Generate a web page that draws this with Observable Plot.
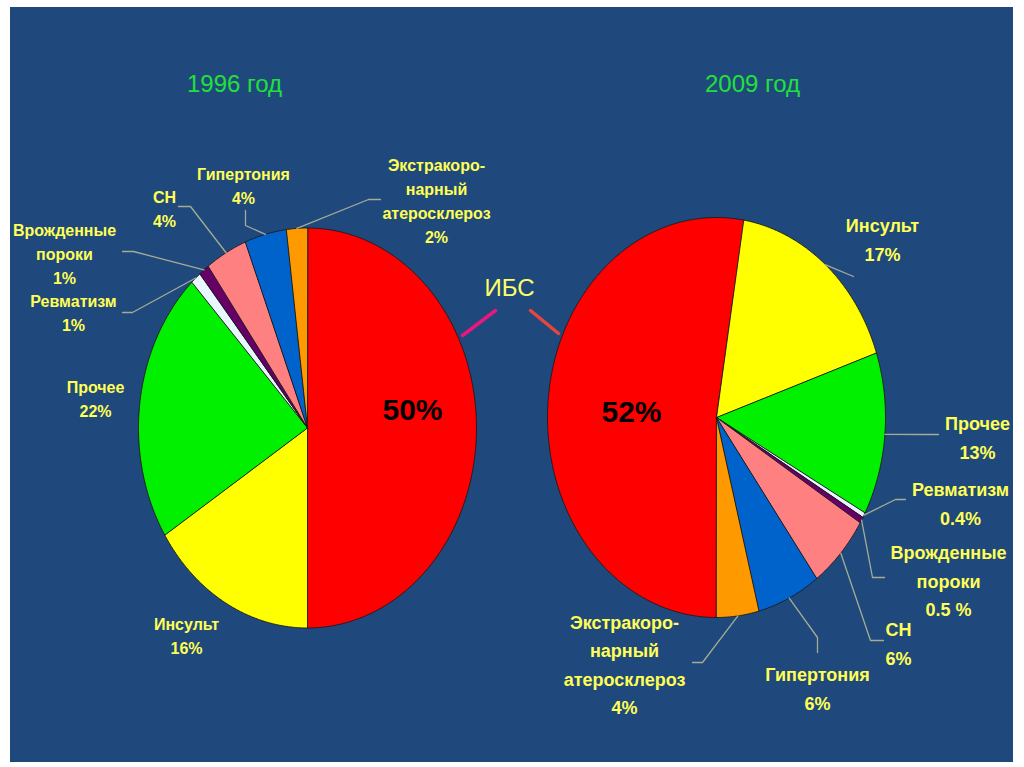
<!DOCTYPE html>
<html><head><meta charset="utf-8">
<script src="https://cdn.jsdelivr.net/npm/d3@7"></script>
<script src="https://cdn.jsdelivr.net/npm/@observablehq/plot@0.6"></script>
<style>
html,body{margin:0;padding:0;background:#fff;}
#chart svg{display:block;}
</style></head><body><div id="chart"></div>
<script>
// ---- data ----
const years = ["1996", "2009"];
const yearTitles = ["1996 год", "2009 год"];
const categories = ["ИБС", "Инсульт", "Прочее", "Ревматизм", "Врожденные пороки", "СН", "Гипертония", "Экстракоронарный атеросклероз"];
const labelNames = ["", "Инсульт", "Прочее", "Ревматизм", "Врожденные\nпороки", "СН", "Гипертония", "Экстракоро-\nнарный\nатеросклероз"];
const values1996 = [50, 16, 22, 1, 1, 4, 4, 2];
const values2009 = [52, 17, 13, 0.4, 0.5, 6, 6, 4];
const pct1996 = ["50%", "16%", "22%", "1%", "1%", "4%", "4%", "2%"];
const pct2009 = ["52%", "17%", "13%", "0.4%", "0.5 %", "6%", "6%", "4%"];
const sliceColors = ["#ff0000", "#ffff00", "#00f000", "#e8f6ff", "#660066", "#ff8080", "#0063cc", "#ff9900"];
const groupLabel = "ИБС";

// ---- layout (reference pixel positions) ----
const RX = 169, RY = 200, CY = 422.5;
const layout = {
  "1996": {center: [307, 427.5], start: 0, font: 16, lh: 1.5, main: [412, 410], title: [234, 84],
    labels: {
      1: {text: [186, 634]},
      2: {text: [95, 397]},
      3: {text: [73, 311], elbow: [132, 312], end: [122, 312]},
      4: {text: [64, 252], elbow: [133, 251], end: [122, 251]},
      5: {text: [164, 207], elbow: [190, 206], end: [178, 206]},
      6: {text: [243, 184], elbow: [245, 225], end: [245, 210]},
      7: {text: [436, 199], elbow: [368, 199], end: [380, 199]}
    }},
  "2009": {center: [716, 417], start: Math.PI, font: 18, lh: 1.58, main: [631, 412], title: [752, 84],
    labels: {
      1: {text: [882, 237], end: [853, 276]},
      2: {text: [977, 435], elbow: [928, 434], end: [938, 434]},
      3: {text: [960, 501], elbow: [895, 499], end: [905, 499]},
      4: {text: [948, 578], elbow: [872, 577], end: [884, 577]},
      5: {text: [898, 641], elbow: [870, 640], end: [883, 640]},
      6: {text: [817, 686], elbow: [817, 637], end: [817, 652]},
      7: {text: [624, 662], elbow: [702, 662], end: [692, 662]}
    }}
};
const FONT = "'Liberation Sans', Arial, sans-serif";
function toUnits(p, c) { return [(p[0] - c[0]) / RX, -(p[1] - c[1]) / RY]; }

function pieMarks(year, title, values, pcts) {
  const L = layout[year];
  const dy = L.center[1] - CY;
  const rows = categories.map((c, i) => ({category: c, value: values[i], index: i}));
  const arcs = d3.pie().sort(null).value(d => d.value)
    .startAngle(L.start).endAngle(L.start + 2 * Math.PI)(rows);
  const wedgePts = [], leaderPts = [], labelRows = [];
  arcs.forEach(a => {
    const n = Math.max(2, Math.ceil((a.endAngle - a.startAngle) / (Math.PI / 360)));
    wedgePts.push({year, category: a.data.category, x: 0, y: 0});
    for (let k = 0; k <= n; k++) {
      const t = a.startAngle + (a.endAngle - a.startAngle) * k / n;
      wedgePts.push({year, category: a.data.category, x: Math.sin(t), y: Math.cos(t)});
    }
    const i = a.data.index;
    const lab = L.labels[i];
    if (!lab) return;
    const [tx, ty] = toUnits(lab.text, L.center);
    labelRows.push({year, x: tx, y: ty, text: labelNames[i] + "\n" + pcts[i]});
    if (lab.end) {
      const mid = (a.startAngle + a.endAngle) / 2;
      const pts = [[Math.sin(mid), Math.cos(mid)]];
      if (lab.elbow) pts.push(toUnits(lab.elbow, L.center));
      pts.push(toUnits(lab.end, L.center));
      pts.forEach(([x, y]) => leaderPts.push({year, key: i, x, y}));
    }
  });
  const [mx, my] = toUnits(L.main, L.center);
  const [ttx, tty] = toUnits(L.title, L.center);
  return [
    Plot.line(wedgePts, {x: "x", y: "y", z: "category", fill: "category", stroke: "#1a1a1a",
      strokeWidth: 0.9, curve: "linear-closed", fx: "year", dy}),
    Plot.line(leaderPts, {x: "x", y: "y", z: "key", stroke: "#a4ac94", strokeWidth: 1.3, fx: "year", dy}),
    Plot.text(labelRows, {x: "x", y: "y", text: "text", fx: "year", dy, fill: "#ffff55",
      fontSize: L.font, fontWeight: "bold", lineHeight: L.lh, textAnchor: "middle", lineAnchor: "middle", fontFamily: FONT}),
    Plot.text([{year, x: mx, y: my, text: pcts[0]}], {x: "x", y: "y", text: "text", fx: "year", dy,
      fill: "#000", fontSize: 30, fontWeight: "bold", fontFamily: FONT, lineAnchor: "middle"}),
    Plot.text([{year, x: ttx, y: tty, text: title}], {x: "x", y: "y", text: "text", fx: "year", dy,
      fill: "#22e03a", fontSize: 24, fontFamily: FONT, lineAnchor: "middle"})
  ];
}

// ИБС callout (shared between the two pies)
const cL = layout["1996"].center, cR = layout["2009"].center;
const ibsText = toUnits([509, 288], cL);
const ibsLineL = [toUnits([462, 335], cL), toUnits([495, 310], cL)].map(([x, y]) => ({year: "1996", x, y}));
const ibsLineR = [toUnits([530, 310], cR), toUnits([558, 333], cR)].map(([x, y]) => ({year: "2009", x, y}));

const chart = Plot.plot({
  width: 1024, height: 767,
  marginLeft: 117, marginRight: 118, marginTop: 0, marginBottom: 0,
  fx: {domain: years, paddingInner: 29 / 409, paddingOuter: 0, axis: null, round: false},
  x: {domain: [-190 / RX, 190 / RX], axis: null},
  y: {domain: [-1, 1], range: [CY + RY, CY - RY], axis: null},
  color: {domain: categories, range: sliceColors},
  style: {background: "linear-gradient(#1F497D,#1F497D) 10px 7px / 1003px 755px no-repeat, #ffffff", fontFamily: FONT, overflow: "visible"},
  marks: [
    ...pieMarks(years[0], yearTitles[0], values1996, pct1996),
    ...pieMarks(years[1], yearTitles[1], values2009, pct2009),
    Plot.line(ibsLineL, {x: "x", y: "y", fx: "year", dy: cL[1] - CY, stroke: "#e8187c", strokeWidth: 3.5}),
    Plot.line(ibsLineR, {x: "x", y: "y", fx: "year", dy: cR[1] - CY, stroke: "#e8453c", strokeWidth: 3.5}),
    Plot.text([{year: "1996", x: ibsText[0], y: ibsText[1], text: groupLabel}], {x: "x", y: "y", text: "text",
      fx: "year", dy: cL[1] - CY, fill: "#ffff66", fontSize: 24, fontFamily: FONT, lineAnchor: "middle"})
  ]
});
document.getElementById("chart").appendChild(chart);
</script>
</body></html>
